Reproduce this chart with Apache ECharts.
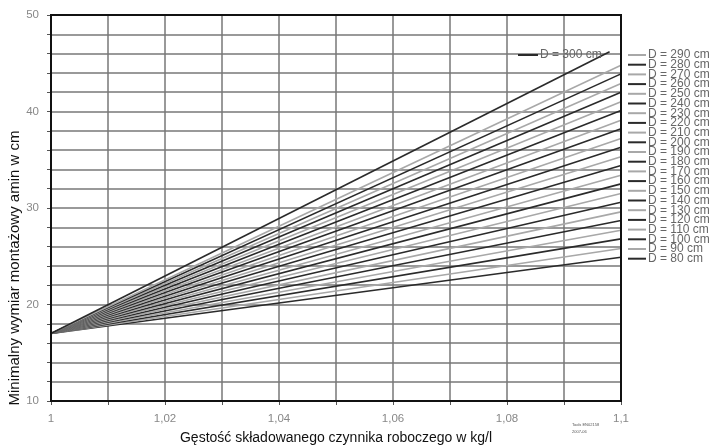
<!DOCTYPE html>
<html>
<head>
<meta charset="utf-8">
<script src="https://cdn.jsdelivr.net/npm/echarts@6/dist/echarts.min.js"></script>
<style>html,body{margin:0;padding:0;background:#fff}#c{width:718px;height:445px}</style>
</head>
<body>
<div id="c"></div>
<script>
// Data
const diameters = [80, 90, 100, 110, 120, 130, 140, 150, 160, 170, 180, 190, 200, 210, 220, 230, 240, 250, 260, 270, 280, 290, 300];
const startX = 1;
const startY = 17;
const endX = [1.1, 1.1, 1.1, 1.1, 1.1, 1.1, 1.1, 1.1, 1.1, 1.1, 1.1, 1.1, 1.1, 1.1, 1.1, 1.1, 1.1, 1.1, 1.1, 1.1, 1.1, 1.1, 1.098];
const endY = [24.9, 25.8, 26.8, 27.7, 28.7, 29.6, 30.6, 31.5, 32.5, 33.4, 34.4, 35.3, 36.3, 37.2, 38.2, 39.1, 40.1, 41.0, 42.0, 42.9, 43.9, 44.8, 46.2];
const xLabels = ['1', '1,02', '1,04', '1,06', '1,08', '1,1'];
const yLabels = ['10', '20', '30', '40', '50'];

const DARK = '#2a2a2a', GRAY = '#a8a8a8';
const names = diameters.map(d => 'D = ' + d + ' cm');
const series = diameters.map((d, i) => ({
  name: names[i],
  type: 'line',
  symbol: 'none',
  animation: false,
  color: (i % 2 === 0) ? DARK : GRAY,
  lineStyle: { width: 1.6, color: (i % 2 === 0) ? DARK : GRAY },
  data: [[startX, startY], [endX[i], endY[i]]],
  z: 3
}));

const chart = echarts.init(document.getElementById('c'), null, { renderer: 'canvas' });
chart.setOption({
  backgroundColor: '#fff',
  animation: false,
  grid: { left: 51, right: 97, top: 15, bottom: 44, containLabel: false, outerBoundsMode: 'none', show: true, borderColor: '#111', borderWidth: 2, z: 10 },
  legend: [
    {
      data: [names[names.length - 1]],
      left: 513, top: 44,
      icon: 'rect', itemWidth: 20, itemHeight: 2, itemGap: 0,
      textStyle: { color: '#666', fontSize: 12, fontFamily: 'Liberation Sans', padding: [0, 0, 0, -3] },
      selectedMode: false
    },
    {
      data: names.slice(0, names.length - 1).reverse(),
      orient: 'vertical',
      left: 628, top: 49,
      icon: 'rect', itemWidth: 18, itemHeight: 2, itemGap: -2.3,
      padding: 0,
      textStyle: { color: '#666', fontSize: 12, fontFamily: 'Liberation Sans', padding: [0, 0, 0, -3] },
      selectedMode: false
    }
  ],
  xAxis: {
    type: 'value', min: 1, max: 1.1, interval: 0.01,
    name: 'Gęstość składowanego czynnika roboczego w kg/l',
    nameLocation: 'middle', nameGap: 30, nameMoveOverlap: false,
    nameTextStyle: { color: '#111', fontSize: 14, fontFamily: 'Liberation Sans' },
    axisLine: { show: true, lineStyle: { color: '#111', width: 2 } },
    axisTick: { show: true, length: 4, lineStyle: { color: '#555' } },
    axisLabel: {
      color: '#888', fontSize: 11.5, fontFamily: 'Liberation Sans', margin: 12,
      formatter: v => { const k = Math.round((v - 1) * 100); return (k % 2 === 0) ? xLabels[k / 2] : ''; }
    },
    splitLine: { show: true, lineStyle: { color: '#777', width: 1.5 } }
  },
  yAxis: {
    type: 'value', min: 10, max: 50, interval: 2,
    name: 'Minimalny wymiar montażowy amin w cm',
    nameLocation: 'middle', nameGap: 29, nameMoveOverlap: false,
    nameTextStyle: { color: '#111', fontSize: 15, fontFamily: 'Liberation Sans', padding: [0, 120, 0, 0] },
    axisLine: { show: true, lineStyle: { color: '#111', width: 2 } },
    axisTick: { show: true, length: 4, lineStyle: { color: '#555' } },
    axisLabel: {
      color: '#888', fontSize: 11.5, fontFamily: 'Liberation Sans', margin: 12,
      formatter: v => { const k = Math.round(v); return (k % 10 === 0) ? yLabels[(k - 10) / 10] : ''; }
    },
    splitLine: { show: true, lineStyle: { color: '#777', width: 1.5 } }
  },
  graphic: [
    { type: 'text', left: 572, top: 421, style: { text: 'Tools EN02158\n2007-06', fontSize: 4, fill: '#555', lineHeight: 7 } }
  ],
  series: series
});
</script>
</body>
</html>
